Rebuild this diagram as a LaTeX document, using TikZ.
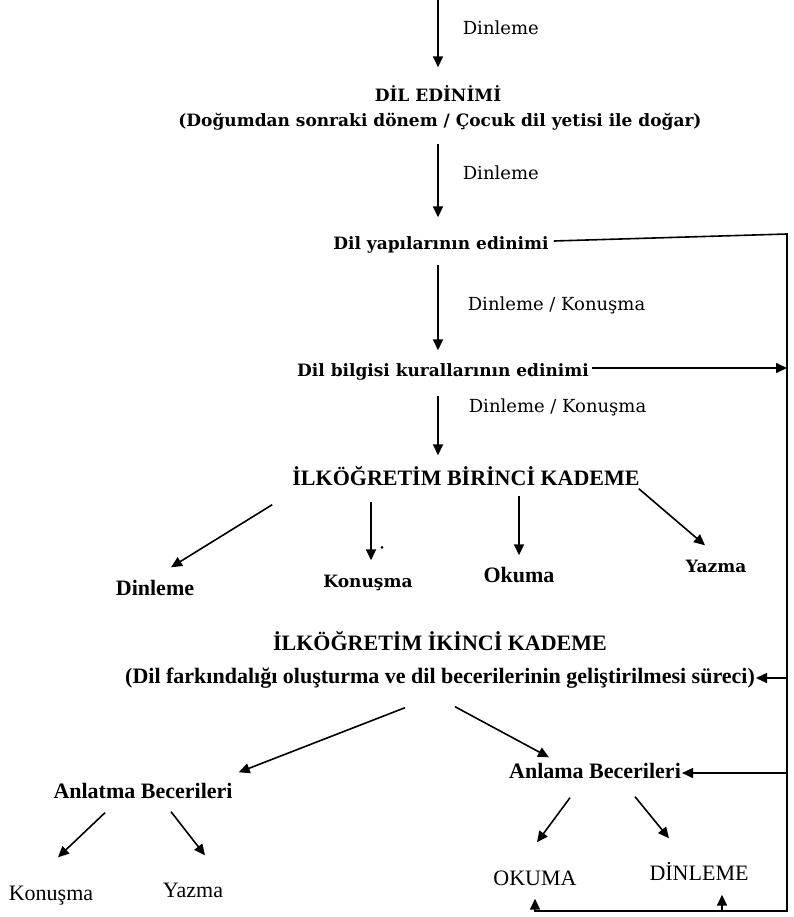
\documentclass[tikz,border=0pt]{standalone}
\usepackage{fontspec}
\setmainfont{Liberation Serif}
\newfontfamily\bkfont{DejaVu Serif}
\usetikzlibrary{arrows.meta, calc}

\begin{document}
\begin{tikzpicture}[x=1pt, y=-1pt,
        wbold/.style={font=\bkfont\bfseries\fontsize{17}{20}\selectfont,
                      inner sep=1pt, text height=13pt, text depth=4pt},
        wlbl/.style={font=\bkfont\fontsize{18}{21}\selectfont, inner sep=1pt},
        tbold/.style={font=\bfseries\fontsize{22}{26}\selectfont,
                      inner sep=1pt, text height=16pt, text depth=5pt},
        treg/.style={font=\fontsize{22}{26}\selectfont,
                     inner sep=1pt, text height=16pt, text depth=5pt},
        arr/.style={->, line width=1.6pt},
        >={Triangle[length=11pt, width=10pt]}
    ]
        \useasboundingbox (0,0) rectangle (794,917);
        \coordinate (top) at (438,0);
        \coordinate (rt) at (787,234);
        \coordinate (rb) at (787,911);

        \node[wbold] (dil) at (438,97) {DİL EDİNİMİ};
        \node[wbold] (dogum) at (440,122) {(Doğumdan sonraki dönem / Çocuk dil yetisi ile doğar)};
        \node[wbold] (yapi) at (441,245) {Dil yapılarının edinimi};
        \node[wbold] (bilgi) at (443,372) {Dil bilgisi kurallarının edinimi};
        \node[tbold] (ilk1) at (466,480) {İLKÖĞRETİM BİRİNCİ KADEME};
        \node[tbold] (dinle1) at (155,590) {Dinleme};
        \node[wbold] (konus1) at (368,583) {Konuşma};
        \node[tbold] (oku1) at (519,577) {Okuma};
        \node[wbold] (yaz1) at (716,568) {Yazma};
        \node[tbold] (ilk2) at (440,645) {İLKÖĞRETİM İKİNCİ KADEME};
        \node[tbold] (farkin) at (440,678) {(Dil farkındalığı oluşturma ve dil becerilerinin geliştirilmesi süreci)};
        \node[tbold] (anlatma) at (143,793) {Anlatma Becerileri};
        \node[tbold] (anlama) at (595,773) {Anlama Becerileri};
        \node[treg] (konus2) at (51,895) {Konuşma};
        \node[treg] (yaz2) at (193,892) {Yazma};
        \node[treg] (oku2) at (535,880) {OKUMA};
        \node[treg] (dinle2) at (699,875) {DİNLEME};

        % main line down
        \draw[arr] (top) -- node[wlbl, right=23pt, pos=0.41]{Dinleme}
            ($(dil.north -| top)+(0,-20)$);
        \draw[arr] ($(dogum.south -| top)+(0,12)$) -- node[wlbl, right=23pt, pos=0.4]{Dinleme}
            ($(yapi.north -| top)+(0,-18)$);
        \draw[arr] ($(yapi.south -| top)+(0,10)$) -- node[wlbl, right=28pt, pos=0.47]{Dinleme / Konuşma}
            ($(bilgi.north -| top)+(0,-12)$);
        \draw[arr] ($(bilgi.south -| top)+(0,14)$) -- node[wlbl, right=29pt, pos=0.19]{Dinleme / Konuşma}
            ($(ilk1.north -| top)+(0,-13)$);

        % feedback line on the right
        \draw[arr] ([xshift=4pt,yshift=4pt]yapi.east) -- (rt) -- (rb) -- (oku2.south |- rb)
            -- ([yshift=-7pt]oku2.south);
        \draw[arr] ($(dinle2.south |- rb)+(23,0)$) -- ($(dinle2.south)+(23,8)$);
        \draw[arr] ([xshift=2pt,yshift=4pt]bilgi.east) -- ($(bilgi.east -| rt)+(0,-4)$);
        \draw[arr] (farkin.east -| rt) -- (farkin.east);
        \draw[arr] (anlama.east -| rt) -- (anlama.east);

        % first stage
        \draw[arr] ([xshift=-19pt,yshift=-13pt]ilk1.south west) -- ([xshift=16pt,yshift=11pt]dinle1.north);
        \draw[arr] ($(konus1.north |- ilk1.south)+(3,10)$) -- ([xshift=3pt,yshift=13pt]konus1.north);
        \draw[arr] ($(oku1.north |- ilk1.south)+(0,4)$) -- ([yshift=10pt]oku1.north);
        \draw[arr] ([xshift=-2pt,yshift=3pt]ilk1.south east) -- ([xshift=-11pt,yshift=13pt]yaz1.north);
        \fill ([xshift=14pt,yshift=26pt]konus1.north) circle (1.5pt);

        % second stage
        \draw[arr] ([xshift=-35pt,yshift=-18pt]farkin.south) -- ([xshift=5pt,yshift=9pt]anlatma.north east);
        \draw[arr] ([xshift=15pt,yshift=-17pt]farkin.south) -- ([xshift=-46pt,yshift=4pt]anlama.north);
        \draw[arr] ([xshift=-38pt,yshift=-8pt]anlatma.south) -- ([xshift=7pt,yshift=26pt]konus2.north);
        \draw[arr] ([xshift=28pt,yshift=-7pt]anlatma.south) -- ([xshift=12pt,yshift=25pt]yaz2.north);
        \draw[arr] ([xshift=-25pt,yshift=-13pt]anlama.south) -- ([xshift=2pt,yshift=26pt]oku2.north);
        \draw[arr] ([xshift=40pt,yshift=-12pt]anlama.south) -- ([xshift=-30pt,yshift=25pt]dinle2.north);
    \end{tikzpicture}
\end{document}
